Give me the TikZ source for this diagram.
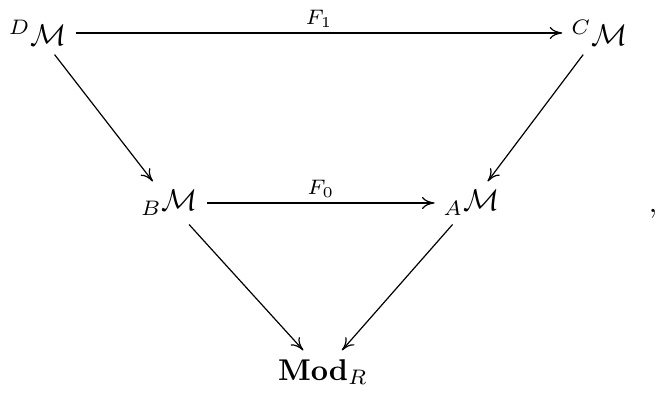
\documentclass[tikz,border=0pt]{standalone}
\usepackage{amsmath}
\usepackage{amssymb}
\usetikzlibrary{
    arrows.meta,
    positioning
}
\tikzset{
    % --- Object of the diagram (module category) ---
    obj/.style = {
        inner sep=3pt, outer sep=0pt
    },
    % --- Functor arrow ---
    map arrow/.style = {
        -{Computer Modern Rightarrow[length=4.2pt, width=4pt]},
        line width=0.4pt
    },
    % --- Functor label on arrow ---
    map label/.style = {
        font=\scriptsize, inner sep=1.5pt, above
    }
}

\begin{document}
\begin{tikzpicture}

\useasboundingbox (0,0) rectangle (7.682,-4.614);

% ---------------------------------------------------------
% Top row
% ---------------------------------------------------------
\node[obj] (DM) at (0.443, -0.386) {${}^{D}\mathcal{M}$};
\node[obj] (CM) at (7.020, -0.386) {${}^{C}\mathcal{M}$};
\draw[map arrow] (DM) -- (CM) node[map label, midway] {$F_1$};

% ---------------------------------------------------------
% Middle row
% ---------------------------------------------------------
\node[obj] (BM) at (1.985, -2.377) {${}_{B}\mathcal{M}$};
\node[obj] (AM) at (5.521, -2.377) {${}_{A}\mathcal{M}$};
\draw[map arrow] (BM) -- (AM) node[map label, midway] {$F_0$};

% Restrictions down the sides
\draw[map arrow] (DM) -- (BM);
\draw[map arrow] (CM) -- (AM);

% ---------------------------------------------------------
% Bottom: forgetful functors to Mod_R
% ---------------------------------------------------------
\node[obj] (ModR) at (3.782, -4.356) {$\mathbf{Mod}_R$};
\draw[map arrow] (BM) -- (ModR);
\draw[map arrow] (AM) -- (ModR);

% trailing punctuation
\node[obj, anchor=base] (Comma) at (7.646, -2.49) {$,$};

\end{tikzpicture}
\end{document}
